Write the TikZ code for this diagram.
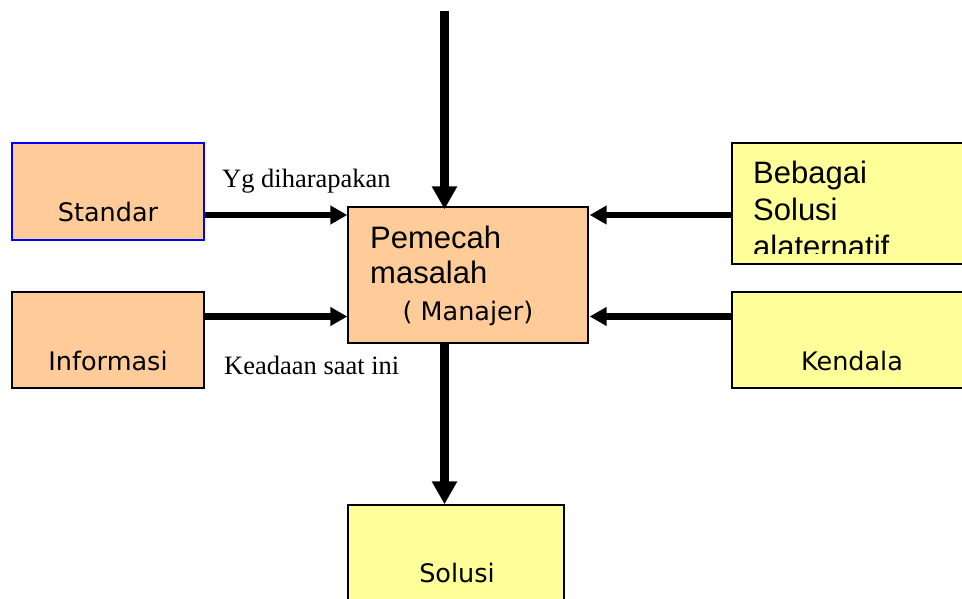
\documentclass[tikz,border=0pt]{standalone}
\usepackage{fontspec}
\setmainfont{Liberation Serif}
\newfontfamily\headfont{Liberation Sans}
\newfontfamily\boxfont{DejaVu Sans}
\usetikzlibrary{arrows.meta}
\definecolor{peach}{HTML}{FFCC99}
\definecolor{paleyellow}{HTML}{FFFF99}
\tikzset{
  box/.style={rectangle, draw=black, line width=1.4pt, inner sep=0pt},
  orangebox/.style={box, fill=peach},
  yellowbox/.style={box, fill=paleyellow},
  boxtext/.style={anchor=base, inner sep=0pt, font=\boxfont\fontsize{25.5}{30}\selectfont},
  headtext/.style={anchor=base west, inner sep=0pt, font=\headfont\fontsize{31}{36}\selectfont},
  flowlabel/.style={anchor=base west, inner sep=0pt, font=\fontsize{26.5}{31}\selectfont},
  harrow/.style={line width=6.5pt, -{Triangle[length=17pt,width=18pt]}},
  varrow/.style={line width=8.5pt, -{Triangle[length=23pt,width=24pt]}}
}
\begin{document}
\begin{tikzpicture}[x=1pt,y=-1pt]
\useasboundingbox (0,0) rectangle (962,599);
\clip (0,0) rectangle (962,599);

% input boxes on the left
\node[orangebox, draw=blue, line width=1.8pt, minimum width=192pt, minimum height=97pt] (std) at (108,191.5) {};
\node[orangebox, minimum width=192pt, minimum height=96pt] (inf) at (108,340) {};
\node[boxtext] (stdtxt) at (108,222) {Standar};
\node[boxtext] (inftxt) at (108,370) {Informasi};

% central decision maker
\node[orangebox, minimum width=240pt, minimum height=136pt] (pm) at (468,275) {};
\node[headtext] (pmtxt1) at (370,248) {Pemecah};
\node[headtext] (pmtxt2) at (370,283) {masalah};
\node[boxtext] (pmtxt3) at (468,320) {( Manajer)};

% inputs on the right
\node[yellowbox, minimum width=248pt, minimum height=121pt] (alt) at (856,203.5) {};
\node[yellowbox, minimum width=248pt, minimum height=96pt] (ken) at (856,340) {};
\begin{scope}
  \clip (733,150) rectangle (962,253);
  \node[headtext] (alttxt1) at (753,184) {Bebagai};
  \node[headtext] (alttxt2) at (753,221) {Solusi};
  \node[headtext] (alttxt3) at (753,258) {alaternatif};
\end{scope}
\node[boxtext] (kentxt) at (852,370) {Kendala};

% output box
\node[yellowbox, minimum width=216pt, minimum height=115pt] (sol) at (456,562.5) {};
\node[boxtext] (soltxt) at (457,582) {Solusi};

% flow labels
\node[flowlabel] (lblstd) at (222,188) {Yg diharapakan};
\node[flowlabel] (lblinf) at (224,374) {Keadaan saat ini};

% connectors
\coordinate (rowa) at (0,215);
\coordinate (rowb) at (0,316.5);
\coordinate (col) at (444.5,0);
\coordinate (topin) at (444.5,11);
\draw[harrow] (std.east |- rowa) -- (pm.west |- rowa);
\draw[harrow] (inf.east |- rowb) -- (pm.west |- rowb);
\draw[harrow] (alt.west |- rowa) -- ([xshift=1pt]pm.east |- rowa);
\draw[harrow] (ken.west |- rowb) -- ([xshift=1pt]pm.east |- rowb);
\draw[varrow] (topin) -- ([yshift=-3pt]pm.north -| col);
\draw[varrow] (pm.south -| col) -- (sol.north -| col);
\end{tikzpicture}
\end{document}
